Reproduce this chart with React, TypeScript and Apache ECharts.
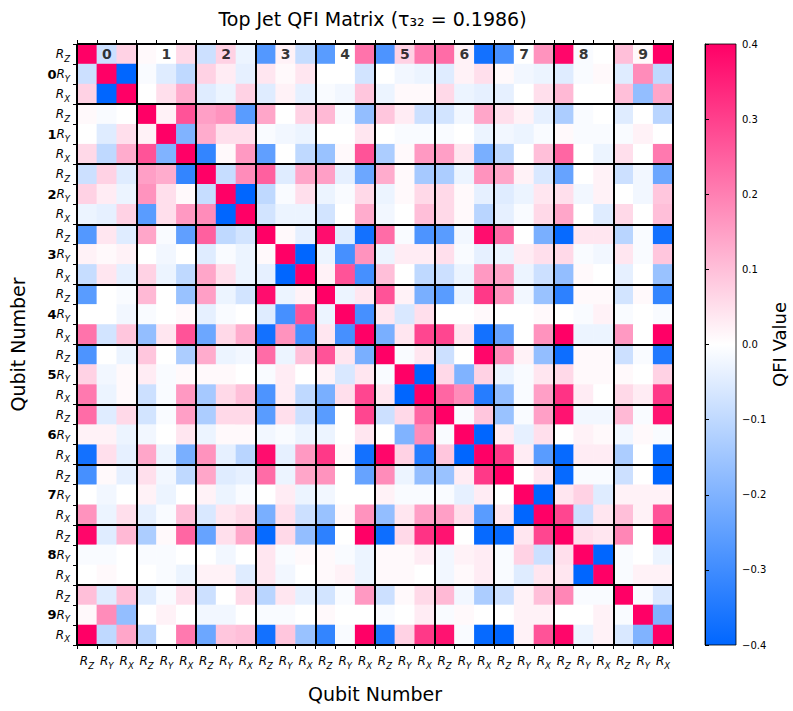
import React, { useEffect, useRef } from 'react';
import * as echarts from 'echarts';

// ---- categories ----
const qubits = ['0', '1', '2', '3', '4', '5', '6', '7', '8', '9'];
const gates = ['Z', 'Y', 'X'];
const titleText = 'Top Jet QFI Matrix (τ₃₂ = 0.1986)';

// ---- upper triangle of the symmetric QFI matrix (row i holds columns i..29) ----
const q0Rows = [
  [0.4, -0.08, 0.07, 0.01, 0, 0.06, -0.08, 0.07, -0.03, -0.27, 0.02, -0.09, -0.26, 0, 0.22, -0.28, 0.07, 0.21, 0.23, 0.02, -0.37, -0.29, 0, 0.17, 0.39, -0.01, 0, 0.1, 0.01, 0.4],
  [0.4, -0.4, -0.01, -0.05, -0.1, 0.07, 0.03, -0.04, 0.04, 0.01, 0.04, 0, 0, -0.07, 0, -0.02, -0.03, -0.05, 0.02, 0.05, 0.01, -0.02, -0.03, -0.05, -0.01, 0.01, -0.05, 0.18, -0.1],
  [0.4, 0, 0.05, 0.13, -0.05, -0.03, 0.07, -0.05, 0.02, -0.04, -0.01, -0.02, 0.09, -0.03, 0.01, 0.01, 0.06, -0.03, -0.04, -0.04, 0, 0.05, 0.11, 0, 0, 0.1, -0.17, 0.14],
];
const q1Rows = [
  [0.4, 0.02, 0.27, 0.15, 0.17, -0.26, 0.14, 0, 0.07, 0.11, -0.01, -0.17, 0.09, 0.03, -0.08, -0.07, -0.02, 0.14, 0.05, 0.02, -0.04, -0.13, -0.01, 0, -0.05, 0, -0.11],
  [0.4, -0.2, 0.13, 0.05, 0.05, -0.01, -0.02, -0.03, 0, 0, 0.04, 0, -0.01, -0.01, -0.01, 0, -0.03, -0.02, -0.03, -0.01, 0.01, -0.01, -0.01, -0.01, 0.02, 0],
  [0.4, -0.32, 0.01, 0.16, -0.25, 0, -0.1, -0.16, 0.01, 0.27, -0.13, 0.01, 0.16, 0.15, 0.04, -0.21, -0.1, 0, 0.1, 0.24, 0, -0.03, 0.05, 0, 0.21],
];
const q2Rows = [
  [0.4, -0.09, 0.18, 0.25, -0.05, 0.14, 0.15, -0.04, -0.23, 0.13, 0.01, -0.14, -0.13, -0.03, 0.17, 0.14, 0.02, -0.06, -0.24, 0, 0.02, -0.08, -0.02, -0.23],
  [0.4, -0.4, -0.1, -0.01, 0.05, -0.03, -0.01, 0.06, -0.03, 0.01, 0.06, 0.06, 0.01, -0.04, -0.05, -0.03, 0.04, 0.05, -0.02, 0.02, 0, -0.02, 0.09],
  [0.4, -0.07, -0.03, -0.03, -0.07, 0, 0.13, -0.02, 0, 0.1, 0.06, 0.01, -0.11, -0.04, -0.01, 0.06, 0.14, 0, -0.05, 0.06, 0, 0.1],
];
const q3Rows = [
  [0.4, 0.01, -0.04, 0.38, -0.05, -0.37, 0.23, -0.01, -0.28, -0.26, -0.02, 0.38, 0.23, 0, -0.21, -0.39, 0.04, 0.04, -0.11, -0.01, -0.37],
  [0.4, -0.4, -0.03, -0.29, 0.17, -0.03, 0.03, 0.03, 0.05, -0.01, -0.04, -0.03, 0.03, 0.05, 0.06, -0.01, -0.02, 0.04, -0.01, 0.09],
  [0.4, 0.02, 0.27, -0.29, 0.1, 0, -0.1, -0.08, -0.03, 0.16, 0.14, -0.03, -0.08, -0.17, 0.01, 0, -0.04, 0, -0.16],
];
const q4Rows = [
  [0.4, -0.03, 0.04, 0.27, 0.02, -0.21, -0.26, -0.03, 0.31, 0.17, -0.02, -0.16, -0.33, 0.01, 0.01, -0.07, 0.01, -0.32],
  [0.4, -0.29, 0.04, -0.06, 0.05, 0, 0, 0.01, 0, 0, 0.01, 0, -0.01, 0.02, -0.01, 0, -0.01],
  [0.4, -0.21, 0.04, 0.29, 0.29, 0.04, -0.37, -0.24, 0, 0.17, 0.4, -0.03, -0.03, 0.16, 0, 0.4],
];
const q5Rows = [
  [0.4, -0.01, 0.04, -0.08, 0, 0.39, 0.18, 0.02, -0.17, -0.38, 0.01, 0.01, -0.08, -0.01, -0.35],
  [0.4, -0.4, 0.06, -0.2, 0.07, -0.03, -0.01, 0.04, 0.06, 0.01, 0.01, 0.01, 0, 0.07],
  [0.4, 0.24, 0.18, -0.34, -0.17, -0.01, 0.15, 0.32, 0.03, 0, 0.06, 0.03, 0.31],
];
const q6Rows = [
  [0.4, -0.01, 0.09, -0.16, -0.01, 0.15, 0.37, -0.02, -0.02, 0.11, -0.01, 0.37],
  [0.4, -0.4, 0.03, -0.04, 0.05, 0, 0.02, 0.01, -0.02, 0.01, -0.01],
  [0.4, 0.31, 0.03, -0.26, -0.39, 0.03, 0.03, -0.13, 0, -0.39],
];
const q7Rows = [
  [0.4, 0, 0.04, -0.39, -0.01, -0.01, -0.08, 0, -0.4],
  [0.4, -0.4, 0.04, 0.07, -0.05, 0.02, 0.02, 0.02],
  [0.4, 0.29, -0.08, 0.04, 0.1, 0.02, 0.27],
];
const q8Rows = [
  [0.4, 0.05, 0.04, 0.19, 0, 0.39],
  [0.4, -0.4, -0.01, 0, -0.03],
  [0.4, -0.01, 0.02, 0.02],
];
const q9Rows = [
  [0.4, -0.01, -0.06],
  [0.4, -0.2],
  [0.4],
];

const upperRows = [...q0Rows, ...q1Rows, ...q2Rows, ...q3Rows, ...q4Rows, ...q5Rows, ...q6Rows, ...q7Rows, ...q8Rows, ...q9Rows];
const cats = qubits.flatMap((q) => gates.map((g) => q + g));

const heatData: [number, number, number][] = [];
upperRows.forEach((row, i) => {
  row.forEach((v, k) => {
    const j = i + k;
    heatData.push([j, i, v]);
    if (j !== i) heatData.push([i, j, v]);
  });
});

const blockLabelData = qubits.map((q, k) => [3 * k + 1, 0, q]);

const FONT = 'DejaVu Sans';
const rich = {
  r: { fontFamily: FONT, fontStyle: 'italic', fontSize: 12, lineHeight: 18, color: '#000', verticalAlign: 'middle' },
  s: { fontFamily: FONT, fontStyle: 'italic', fontSize: 8.5, lineHeight: 9, color: '#000', verticalAlign: 'bottom' },
  b: { fontFamily: FONT, fontWeight: 'bold', fontSize: 13, lineHeight: 18, color: '#000', verticalAlign: 'middle' },
};

const gLeft = 72, gTop = 44, gW = 601, gH = 601;
const cbLeft = 705, cbW = 31;

const blockSplit = { show: true, interval: (i: number) => i % 3 === 0, lineStyle: { color: '#000', width: 2 } };
const blackLine = { show: true, lineStyle: { color: '#000', width: 1 } };
const tick = { show: true, length: 4, lineStyle: { color: '#000', width: 1 } };

const option: any = {
  animation: false,
  backgroundColor: '#fff',
  textStyle: { fontFamily: FONT },
  grid: [
    { left: gLeft, top: gTop, width: gW, height: gH },
    { left: cbLeft, top: gTop, width: cbW, height: gH },
  ],
  xAxis: [
    {
      gridIndex: 0, type: 'category', data: cats, position: 'bottom', z: 5,
      axisLine: blackLine, axisTick: { ...tick, interval: 0 },
      axisLabel: {
        interval: 0, margin: 7, rich,
        formatter: (_v: string, idx: number) => `{r|R}{s|${gates[idx % 3]}}`,
      },
      splitLine: blockSplit,
      name: 'Qubit Number', nameLocation: 'middle', nameGap: 39,
      nameTextStyle: { fontFamily: FONT, fontSize: 19, color: '#000' },
    },
    {
      gridIndex: 0, type: 'category', data: cats, position: 'top', z: 5,
      axisLine: blackLine, axisTick: { ...tick, interval: 0 },
      axisLabel: { show: false }, splitLine: { show: false },
    },
    { gridIndex: 1, type: 'value', min: 0, max: 1, show: false },
  ],
  yAxis: [
    {
      gridIndex: 0, type: 'category', data: cats, inverse: true, position: 'left', z: 5,
      axisLine: blackLine, axisTick: { ...tick, interval: 0 },
      axisLabel: {
        interval: 0, margin: 7, rich,
        formatter: (_v: string, idx: number) =>
          (idx % 3 === 1 ? `{b|${qubits[Math.floor(idx / 3)]}}` : '') + `{r|R}{s|${gates[idx % 3]}}`,
      },
      splitLine: blockSplit,
      name: 'Qubit Number', nameLocation: 'middle', nameGap: 50, nameRotate: 90,
      nameTextStyle: { fontFamily: FONT, fontSize: 19, color: '#000' },
    },
    {
      gridIndex: 0, type: 'category', data: cats, inverse: true, position: 'right', z: 5,
      axisLine: blackLine, axisTick: { show: false }, axisLabel: { show: false }, splitLine: { show: false },
    },
    {
      gridIndex: 1, type: 'value', min: -0.4, max: 0.4, interval: 0.1, position: 'right', z: 5,
      axisLine: blackLine, axisTick: tick,
      splitLine: { show: false },
      axisLabel: {
        margin: 6, fontSize: 10, color: '#000', fontFamily: FONT,
        formatter: (v: number) => (Math.abs(v) < 1e-9 ? '0.0' : v.toFixed(1).replace('-', '\u2212')),
      },
      name: 'QFI Value', nameLocation: 'middle', nameGap: 27, nameRotate: 90,
      nameTextStyle: { fontFamily: FONT, fontSize: 18, color: '#000' },
    },
  ],
  visualMap: {
    type: 'continuous', show: false, min: -0.4, max: 0.4, seriesIndex: 0, dimension: 2,
    inRange: { color: ['#0066ff', '#ffffff', '#ff0066'] },
  },
  graphic: [
    {
      type: 'text', x: gLeft + gW / 2, y: 19, z: 10,
      style: { text: titleText, fontFamily: FONT, fontSize: 19, fill: '#000', textAlign: 'center', textVerticalAlign: 'middle' },
    },
    {
      type: 'rect', z: 1,
      shape: { x: cbLeft, y: gTop, width: cbW, height: gH },
      style: {
        stroke: '#000', lineWidth: 0.8,
        fill: new echarts.graphic.LinearGradient(0, 0, 0, 1, [
          { offset: 0, color: '#ff0066' },
          { offset: 0.5, color: '#ffffff' },
          { offset: 1, color: '#0066ff' },
        ]),
      },
    },
  ],
  series: [
    {
      type: 'heatmap', xAxisIndex: 0, yAxisIndex: 0, data: heatData,
      itemStyle: { borderWidth: 0 },
      emphasis: { disabled: true },
    },
    {
      type: 'scatter', xAxisIndex: 0, yAxisIndex: 0, data: blockLabelData, z: 6,
      symbolSize: 1, itemStyle: { color: 'transparent' },
      label: {
        show: true, position: 'inside', formatter: (p: any) => p.value[2],
        fontFamily: FONT, fontWeight: 'bold', fontSize: 14, color: '#000',
      },
      silent: true,
    },
  ],
};

export default function App() {
  const ref = useRef<HTMLDivElement>(null);
  useEffect(() => {
    const chart = echarts.init(ref.current!, null, { renderer: 'svg' });
    chart.setOption(option);
    return () => chart.dispose();
  }, []);
  return (
    <div
      ref={ref}
      style={{ position: 'fixed', left: 0, top: 0, width: 793, height: 711, background: '#fff' }}
    />
  );
}
